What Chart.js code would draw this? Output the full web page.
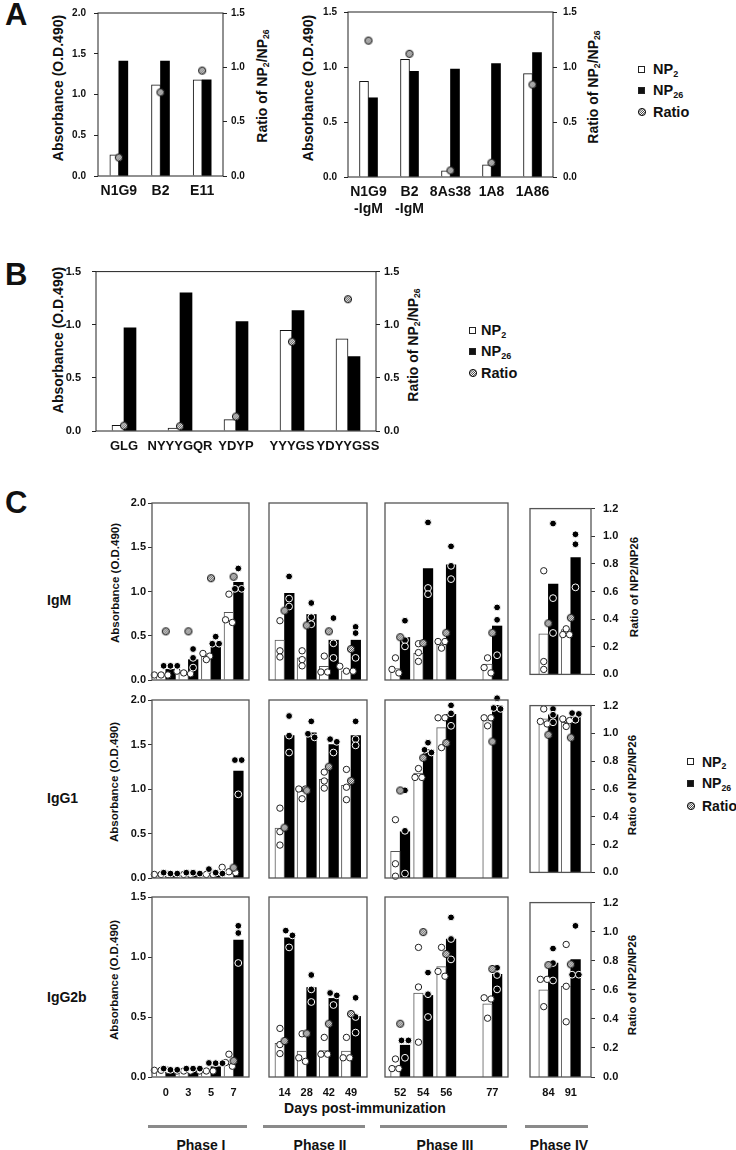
<!DOCTYPE html>
<html>
<head>
<meta charset="utf-8">
<script src="https://cdn.jsdelivr.net/npm/chart.js@4.4.1/dist/chart.umd.min.js"></script>
<style>
body { margin: 0; background: #fff; }
#page { position: relative; width: 736px; height: 1150px; overflow: hidden;
  font-family: "Liberation Sans", Arial, Helvetica, sans-serif; font-weight: bold; color: #111; }
canvas, .t, .ln, .sq, .hd { position: absolute; }
.t { white-space: nowrap; line-height: 1; }
.c { transform: translate(-50%, -50%); }
.l { transform: translateY(-50%); }
.v { transform: translate(-50%, -50%) rotate(-90deg); }
.s { font-size: 0.62em; position: relative; top: 0.28em; }
.ln { height: 3px; background: #8a8a8a; }
</style>
</head>
<body>
<div id="page">
  <div class="t" style="left:5px;top:-1px;font-size:31px">A</div>
  <div class="t" style="left:5px;top:259px;font-size:31px">B</div>
  <div class="t" style="left:5px;top:487px;font-size:31px">C</div>

  <div class="t v" style="left:58px;top:88px;font-size:14px">Absorbance (O.D.490)</div>
  <div class="t v" style="left:262px;top:86px;font-size:14px">Ratio of NP<span class="s">2</span>/NP<span class="s">26</span></div>
  <div class="t v" style="left:308px;top:88px;font-size:14px">Absorbance (O.D.490)</div>
  <div class="t v" style="left:593px;top:87px;font-size:14px">Ratio of NP<span class="s">2</span>/NP<span class="s">26</span></div>

  <div class="t v" style="left:58px;top:340px;font-size:14px">Absorbance (O.D.490)</div>
  <div class="t v" style="left:413px;top:345px;font-size:14px">Ratio of NP<span class="s">2</span>/NP<span class="s">26</span></div>

  <div class="t l" style="left:47px;top:600px;font-size:14px">IgM</div>
  <div class="t l" style="left:47px;top:798px;font-size:14px">IgG1</div>
  <div class="t l" style="left:47px;top:997px;font-size:14px">IgG2b</div>

  <div class="t v" style="left:116px;top:583px;font-size:11.5px">Absorbance (O.D.490)</div>
  <div class="t v" style="left:115px;top:782px;font-size:11.5px">Absorbance (O.D.490)</div>
  <div class="t v" style="left:115px;top:980px;font-size:11.5px">Absorbance (O.D.490)</div>
  <div class="t v" style="left:635px;top:587px;font-size:11.5px">Ratio of NP2/NP26</div>
  <div class="t v" style="left:633px;top:785px;font-size:11.5px">Ratio of NP2/NP26</div>
  <div class="t v" style="left:633px;top:985px;font-size:11.5px">Ratio of NP2/NP26</div>

  <div class="t c" style="left:365px;top:1108px;font-size:14px">Days post-immunization</div>

  <div class="ln" style="left:148px;top:1125px;width:99px"></div>
  <div class="ln" style="left:263px;top:1125px;width:102px"></div>
  <div class="ln" style="left:380px;top:1125px;width:127px"></div>
  <div class="ln" style="left:525px;top:1125px;width:63px"></div>
  <div class="t c" style="left:201px;top:1145px;font-size:14px">Phase I</div>
  <div class="t c" style="left:320px;top:1145px;font-size:14px">Phase II</div>
  <div class="t c" style="left:445px;top:1145px;font-size:14px">Phase III</div>
  <div class="t c" style="left:559px;top:1145px;font-size:14px">Phase IV</div>
</div>
<script>
// ---------- panel A ----------
const aLeftLabels = ['N1G9', 'B2', 'E11'];
const aLeftNP2 = [0.26, 1.12, 1.18];
const aLeftNP26 = [1.41, 1.41, 1.18];
const aLeftRatio = [0.17, 0.77, 0.97];

const aRightLabels = [['N1G9', '-IgM'], ['B2', '-IgM'], '8As38', '1A8', '1A86'];
const aRightNP2 = [0.87, 1.07, 0.055, 0.11, 0.94];
const aRightNP26 = [0.72, 0.96, 0.98, 1.03, 1.13];
const aRightRatio = [1.24, 1.12, 0.06, 0.13, 0.84];

// ---------- panel B ----------
const bLabels = ['GLG', 'NYYYGQR', 'YDYP', 'YYYGS', 'YDYYGSS'];
const bNP2 = [0.053, 0.027, 0.107, 0.947, 0.867];
const bNP26 = [0.97, 1.30, 1.03, 1.133, 0.70];
const bRatio = [0.05, 0.045, 0.136, 0.84, 1.24];

// ---------- panel C ----------
const cDays = [['0', '3', '5', '7'], ['14', '28', '42', '49'], ['52', '54', '56', '77'], ['84', '91']];
const cAbsMax = [2.0, 2.0, 1.5];
const cRatioMax = 1.2;

// IgM
const igmNP2 = [0.06, 0.087, 0.27, 0.765, 0.45, 0.25, 0.155, 0.105, 0.13, 0.30, 0.41, 0.18, 0.49, 0.54];
const igmNP26 = [0.12, 0.23, 0.40, 1.105, 0.98, 0.74, 0.45, 0.45, 0.48, 1.26, 1.30, 0.61, 1.09, 1.41];
const igmRatio = [0.33, 0.33, 0.69, 0.70, 0.47, 0.37, 0.33, 0.21, 0.29, 0.25, 0.32, 0.32, 0.37, 0.41];
const igmNP2Mice = [[0.057, 0.057, 0.057], [0.10, 0.08, 0.07], [0.30, 0.27, 0.23], [0.97, 0.68, 0.65],
  [0.67, 0.33, 0.26], [0.33, 0.23, 0.16], [0.27, 0.09, 0.09], [0.155, 0.10, 0.10],
  [0.25, 0.12, 0.08], [0.41, 0.31, 0.21], [0.435, 0.435, 0.36], [0.25, 0.14, 0.08],
  [1.25, 0.155, 0.06], [0.55, 0.48, 0.48]];
const igmNP26Mice = [[0.16, 0.16, 0.16], [0.35, 0.25, 0.14], [0.49, 0.41, 0.41], [1.26, 1.03, 1.03],
  [1.17, 0.92, 0.83], [0.87, 0.71, 0.63], [0.70, 0.415, 0.25], [0.60, 0.53, 0.25],
  [0.67, 0.45, 0.38], [1.78, 1.04, 0.97], [1.51, 1.29, 1.14], [0.82, 0.68, 0.28],
  [1.82, 0.92, 0.50], [1.69, 1.57, 1.05]];

// IgG1
const igg1NP2 = [0.04, 0.04, 0.04, 0.07, 0.56, 0.975, 1.11, 1.04, 0.30, 1.18, 1.69, 1.77, 1.84, 1.80];
const igg1NP26 = [0.05, 0.05, 0.07, 1.20, 1.60, 1.63, 1.50, 1.60, 0.52, 1.445, 1.84, 1.94, 1.89, 1.87];
const igg1Ratio = [null, null, null, 0.07, 0.34, 0.59, 0.75, 0.655, 0.59, 0.81, 0.91, 0.92, 0.99, 0.97];
const igg1NP2Mice = [[0.04, 0.04, 0.04], [0.04, 0.04, 0.04], [0.04, 0.04, 0.04], [0.12, 0.07, 0.06],
  [0.785, 0.52, 0.37], [1.0, 1.0, 0.89], [1.19, 1.09, 1.01], [1.22, 1.02, 0.88],
  [0.655, 0.16, 0.02], [1.23, 1.13, 1.13], [1.80, 1.80, 1.465], [1.80, 1.80, 1.71],
  [1.96, 1.81, 1.78], [1.84, 1.82, 1.75]];
const igg1NP26Mice = [[0.06, 0.05, 0.05], [0.06, 0.06, 0.05], [0.10, 0.06, 0.05], [1.325, 1.325, 0.94],
  [1.82, 1.60, 1.41], [1.76, 1.62, 1.58], [1.56, 1.53, 1.41], [1.76, 1.56, 1.49],
  [0.985, 0.53, 0.05], [1.52, 1.44, 1.41], [1.94, 1.85, 1.71], [2.02, 1.91, 1.90],
  [1.96, 1.89, 1.80], [1.91, 1.90, 1.83]];

// IgG2b
const igg2bNP2 = [0.05, 0.05, 0.05, 0.106, 0.28, 0.215, 0.22, 0.215, 0.09, 0.70, 0.92, 0.61, 0.75, 0.78];
const igg2bNP26 = [0.05, 0.05, 0.086, 1.14, 1.16, 0.745, 0.655, 0.505, 0.265, 0.68, 1.15, 0.855, 0.98, 1.01];
const igg2bRatio = [null, null, null, 0.108, 0.24, 0.29, 0.355, 0.42, 0.355, 0.966, 0.82, 0.72, 0.77, 0.775];
const igg2bNP2Mice = [[0.056, 0.056, 0.056], [0.05, 0.05, 0.05], [0.05, 0.05, 0.05], [0.19, 0.12, 0.09],
  [0.405, 0.27, 0.195], [0.36, 0.16, 0.13], [0.33, 0.19, 0.19], [0.33, 0.16, 0.16],
  [0.15, 0.07, 0.07], [1.08, 0.75, 0.29], [1.08, 0.88, 0.84], [0.66, 0.65, 0.49],
  [0.84, 0.84, 0.605], [1.14, 0.78, 0.475]];
const igg2bNP26Mice = [[0.07, 0.06, 0.06], [0.07, 0.07, 0.07], [0.117, 0.115, 0.115], [1.26, 1.20, 0.95],
  [1.22, 1.18, 1.08], [0.85, 0.73, 0.625], [0.70, 0.68, 0.60], [0.66, 0.50, 0.37],
  [0.305, 0.305, 0.16], [0.87, 0.69, 0.50], [1.33, 1.15, 0.98], [0.91, 0.85, 0.73],
  [1.105, 0.98, 0.83], [1.30, 0.88, 0.88]];

const cNP2 = [igmNP2, igg1NP2, igg2bNP2];
const cNP26 = [igmNP26, igg1NP26, igg2bNP26];
const cRatio = [igmRatio, igg1Ratio, igg2bRatio];
const cNP2Mice = [igmNP2Mice, igg1NP2Mice, igg2bNP2Mice];
const cNP26Mice = [igmNP26Mice, igg1NP26Mice, igg2bNP26Mice];

// ---------- layout ----------
const cRowBoxes = [{top: 502.5, bottom: 679.3}, {top: 700, bottom: 877.7}, {top: 896.5, bottom: 1076}];
const cPhaseBoxes = [
  {left: 151.7, right: 250.7, min: -0.61, max: 3.68, slots: [0, 1, 2, 3]},
  {left: 266.7, right: 368.3, min: -0.70, max: 3.72, slots: [0, 1, 2, 3]},
  {left: 383.3, right: 510.7, min: -0.66, max: 4.68, slots: [0, 1, 2, 4]},
  {left: 527.7, right: 591.0, min: -0.82, max: 1.90, slots: [0, 1]}
];
const HALF = 0.207;   // bar centre offset, in slot units
const DODGE = 0.3;    // side step for points with about the same value

Chart.defaults.font.family = '"Liberation Sans", Arial, Helvetica, sans-serif';
Chart.defaults.font.weight = 'bold';
Chart.defaults.color = '#111';

function hatchDot(r) {
  const s = Math.ceil(r * 2 + 2), c = document.createElement('canvas');
  c.width = c.height = s;
  const g = c.getContext('2d'), m = s / 2;
  g.beginPath(); g.arc(m, m, r, 0, Math.PI * 2); g.fillStyle = '#fff'; g.fill();
  g.save(); g.clip();
  g.strokeStyle = '#111'; g.lineWidth = 0.8;
  for (let k = -s; k < 2 * s; k += 2.2) { g.beginPath(); g.moveTo(k, s); g.lineTo(k + s, 0); g.stroke(); }
  g.restore();
  g.beginPath(); g.arc(m, m, r, 0, Math.PI * 2); g.strokeStyle = '#111'; g.lineWidth = 1; g.stroke();
  return c;
}
const hatch = hatchDot(3.6);

const boxPlugin = {
  id: 'box',
  afterDatasetsDraw(chart, args, o) {
    const a = chart.chartArea, g = chart.ctx;
    g.save();
    g.strokeStyle = o.color; g.lineWidth = o.width;
    g.strokeRect(a.left, a.top, a.right - a.left, a.bottom - a.top);
    g.restore();
  }
};

function place(id, plot, m) {
  const cv = document.createElement('canvas');
  const w = Math.round(plot.w + m.l + m.r), h = Math.round(plot.h + m.t + m.b);
  cv.id = id; cv.width = w; cv.height = h;
  cv.style.width = w + 'px'; cv.style.height = h + 'px';
  cv.style.left = Math.round(plot.x - m.l) + 'px';
  cv.style.top = Math.round(plot.y - m.t) + 'px';
  document.getElementById('page').appendChild(cv);
  return cv;
}

function abChart(id, plot, m, labels, np2, np26, ratio, yMax, y1Max, barW, f) {
  const cv = place(id, plot, m);
  return new Chart(cv, {
    type: 'bar',
    data: {
      labels: labels,
      datasets: [
        {type: 'line', order: 0, data: ratio, yAxisID: 'y1', showLine: false,
         pointStyle: hatch, pointRadius: 4, clip: false},
        {order: 1, data: np2, backgroundColor: '#fff', borderColor: '#111', borderWidth: 1,
         barThickness: barW, yAxisID: 'y'},
        {order: 1, data: np26, backgroundColor: '#000', borderWidth: 0, barThickness: barW, yAxisID: 'y'}
      ]
    },
    options: {
      responsive: false, animation: false,
      layout: {padding: {top: m.t}},
      plugins: {legend: {display: false}, tooltip: {enabled: false}, box: {color: '#222', width: 1}},
      scales: {
        x: {ticks: {padding: f.xPad, font: {size: f.xFont}, autoSkip: false, maxRotation: 0},
            grid: {display: false, drawTicks: false}, border: {display: false},
            afterFit: s => { s.height = m.b; }},
        y: {position: 'left', min: 0, max: yMax,
            ticks: {stepSize: 0.5, padding: f.lPad, font: {size: f.tFont}, callback: v => v.toFixed(1)},
            grid: {drawOnChartArea: false, tickLength: 4, color: '#222'}, border: {display: false},
            afterFit: s => { s.width = m.l; }},
        y1: {position: 'right', min: 0, max: y1Max,
            ticks: {stepSize: 0.5, padding: f.rPad, font: {size: f.tFont}, callback: v => v.toFixed(1)},
            grid: {drawOnChartArea: false, tickLength: 4, color: '#222'}, border: {display: false},
            afterFit: s => { s.width = m.r; }}
      }
    },
    plugins: [boxPlugin]
  });
}

abChart('aLeft', {x: 98, y: 7, w: 125, h: 169}, {l: 45, r: 30, t: 8, b: 40},
  aLeftLabels, aLeftNP2, aLeftNP26, aLeftRatio, 2.0, 1.5, 9,
  {xPad: 7, xFont: 14, tFont: 10, lPad: 8, rPad: 4});
abChart('aRight', {x: 348, y: 7, w: 205, h: 170}, {l: 45, r: 30, t: 8, b: 45},
  aRightLabels, aRightNP2, aRightNP26, aRightRatio, 1.5, 1.5, 9,
  {xPad: 7, xFont: 14, tFont: 10, lPad: 7, rPad: 6});
abChart('b', {x: 96, y: 262, w: 280, h: 169}, {l: 45, r: 30, t: 8, b: 30},
  bLabels, bNP2, bNP26, bRatio, 1.5, 1.5, 12,
  {xPad: 8, xFont: 13, tFont: 11, lPad: 11, rPad: 4});

function spread(vals, tol) {
  const off = vals.map(() => 0), groups = [];
  vals.forEach((v, i) => {
    const g = groups.find(gr => Math.abs(vals[gr[0]] - v) <= tol);
    if (g) g.push(i); else groups.push([i]);
  });
  groups.forEach(g => g.forEach((i, k) => { off[i] = (k - (g.length - 1) / 2) * DODGE; }));
  return off;
}

function cChart(ri, pi) {
  const ph = cPhaseBoxes[pi], rb = cRowBoxes[ri];
  const first = cDays.slice(0, pi).reduce((n, d) => n + d.length, 0);
  const idx = cDays[pi].map((d, k) => first + k);
  const showLeft = pi === 0, showRight = pi === cDays.length - 1, showDays = ri === cRowBoxes.length - 1;
  const m = {l: showLeft ? 44 : 3, r: showRight ? 40 : 3, t: 9, b: showDays ? 26 : 9};
  const cv = place('c' + ri + pi, {x: ph.left, y: rb.top, w: ph.right - ph.left, h: rb.bottom - rb.top}, m);
  const tol = cAbsMax[ri] * 0.034;
  const at = k => ph.slots[k];
  const micePts = (sets, side) => idx.flatMap((i, k) => {
    const off = spread(sets[i], tol);
    return sets[i].map((v, j) => ({x: at(k) + side * HALF + off[j], y: v}));
  });
  const np2 = cNP2[ri], np26 = cNP26[ri], ratio = cRatio[ri];
  return new Chart(cv, {
    type: 'bar',
    data: {
      datasets: [
        {type: 'scatter', order: 0, yAxisID: 'y1', clip: false, pointStyle: hatch, pointRadius: 4,
         data: idx.map((i, k) => ({x: at(k), y: ratio[i]})).filter(p => p.y !== null)},
        {type: 'scatter', order: 1, yAxisID: 'y', clip: false, data: micePts(cNP26Mice[ri], 1),
         pointRadius: 3.4, pointBackgroundColor: '#000', pointBorderColor: '#fff', pointBorderWidth: 1},
        {type: 'scatter', order: 1, yAxisID: 'y', clip: false, data: micePts(cNP2Mice[ri], -1),
         pointRadius: 3.2, pointBackgroundColor: '#fff', pointBorderColor: '#222', pointBorderWidth: 1},
        {type: 'bar', order: 2, yAxisID: 'y', barThickness: 9.6,
         data: idx.map((i, k) => ({x: at(k), y: np2[i]})),
         backgroundColor: '#fff', borderColor: '#555', borderWidth: 1},
        {type: 'bar', order: 2, yAxisID: 'y', barThickness: 9.6,
         data: idx.map((i, k) => ({x: at(k), y: np26[i]})),
         backgroundColor: '#000', borderWidth: 0}
      ]
    },
    options: {
      responsive: false, animation: false,
      layout: {padding: {top: m.t}},
      plugins: {legend: {display: false}, tooltip: {enabled: false}, box: {color: '#555', width: 1.3}},
      scales: {
        x: {type: 'linear', min: ph.min, max: ph.max, offset: false,
            afterBuildTicks: a => { a.ticks = ph.slots.map(v => ({value: v})); },
            ticks: {display: showDays, padding: 9, autoSkip: false, maxRotation: 0, font: {size: 11},
                    callback: (v, i) => cDays[pi][i]},
            grid: {display: false, drawTicks: false}, border: {display: false},
            afterFit: s => { s.height = m.b; }},
        y: {type: 'linear', position: 'left', min: 0, max: cAbsMax[ri],
            ticks: {display: showLeft, stepSize: 0.5, padding: 2, font: {size: 11}, callback: v => v.toFixed(1)},
            grid: {display: showLeft, drawOnChartArea: false, tickLength: 4, color: '#333'},
            border: {display: false},
            afterFit: s => { s.width = m.l; }},
        y1: {type: 'linear', position: 'right', min: 0, max: cRatioMax,
            ticks: {display: showRight, stepSize: 0.2, padding: 8, font: {size: 11}, callback: v => v.toFixed(1)},
            grid: {display: showRight, drawOnChartArea: false, tickLength: 4, color: '#333'},
            border: {display: false},
            afterFit: s => { s.width = m.r; }}
      }
    },
    plugins: [boxPlugin]
  });
}

cRowBoxes.forEach((r, ri) => cPhaseBoxes.forEach((p, pi) => cChart(ri, pi)));

// ---------- legends ----------
const legendNames = ['NP<span class="s">2</span>', 'NP<span class="s">26</span>', 'Ratio'];
const legendSpots = [
  {sq: 638, tx: 653, ys: [69, 90, 112.3], fs: 14.5},
  {sq: 468.5, tx: 481, ys: [330, 351, 373.3], fs: 14.5},
  {sq: 687, tx: 702, ys: [761.7, 783.3, 805.7], fs: 14}
];
const page = document.getElementById('page');
const hatchUrl = hatch.toDataURL();
legendSpots.forEach(L => {
  L.ys.forEach((y, k) => {
    let mark;
    if (k < 2) {
      mark = document.createElement('div');
      mark.className = 'sq';
      mark.style.cssText = 'width:5px;height:5px;border:1px solid #222;background:' + (k ? '#111' : '#fff') +
        ';left:' + L.sq + 'px;top:' + (y - 3.5) + 'px';
    } else {
      mark = document.createElement('img');
      mark.className = 'hd';
      mark.src = hatchUrl;
      mark.style.cssText = 'left:' + (L.sq - 1) + 'px;top:' + (y - hatch.height / 2) + 'px';
    }
    page.appendChild(mark);
    const t = document.createElement('div');
    t.className = 't l';
    t.style.cssText = 'left:' + L.tx + 'px;top:' + y + 'px;font-size:' + L.fs + 'px';
    t.innerHTML = legendNames[k];
    page.appendChild(t);
  });
});
</script>
</body>
</html>
